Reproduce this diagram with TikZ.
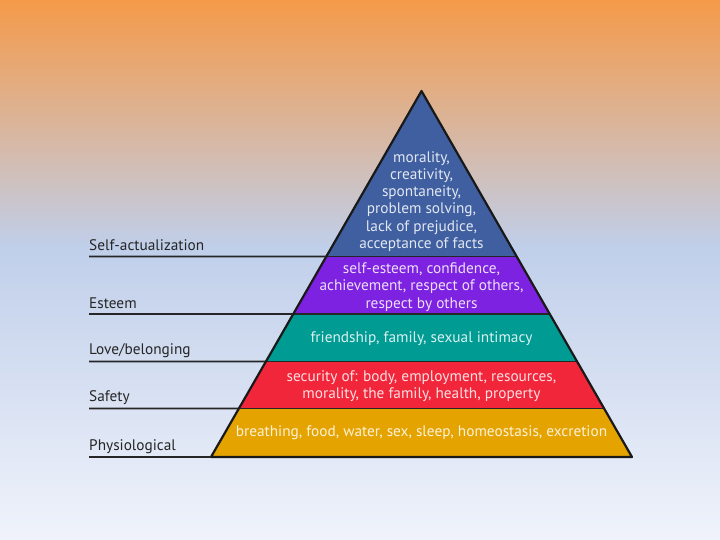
\documentclass[tikz,border=0pt]{standalone}
\usepackage{fontspec}
\setmainfont{PT Sans}
\usepackage{xcolor}
\usetikzlibrary{positioning, calc}
\definecolor{SkyOrange}{HTML}{F59A4A}
\definecolor{SkyBlue}{HTML}{C0CFEA}
\definecolor{SkyWhite}{HTML}{F0F3FB}
\definecolor{SelfBlue}{HTML}{3F5FA0}
\definecolor{EsteemPurple}{HTML}{7D22E0}
\definecolor{LoveTeal}{HTML}{009C94}
\definecolor{SafeRed}{HTML}{F2263A}
\definecolor{BodyGold}{HTML}{E5A300}

\begin{document}
\begin{tikzpicture}[
            x=1pt, y=-1pt,
            outline/.style={draw=black!90, line width=2.2pt, line join=round},
            divider/.style={draw=black!85, line width=1.4pt},
            need/.style={align=center, inner sep=0pt, font=\fontsize{15.3}{17.2}\selectfont},
            lvl/.style={anchor=base west, inner sep=0pt, text=black!85, font=\fontsize{15.3}{17}\selectfont},
            rule/.style={draw=black!85, line width=1.6pt}
        ]

            % background
            \useasboundingbox (0,0) rectangle (720,540);
            \shade[top color=SkyOrange, bottom color=SkyBlue] (0,0) rectangle (720,247);
            \shade[top color=SkyBlue, bottom color=SkyWhite] (0,247) rectangle (720,540);

            % pyramid corners and layer edges
            \coordinate (apex) at (421.5,91);
            \coordinate (bl) at (211,457);
            \coordinate (br) at (632,457);
            \coordinate (l1) at ($(apex)!0.4522!(bl)$);
            \coordinate (r1) at ($(apex)!0.4522!(br)$);
            \coordinate (l2) at ($(apex)!0.6093!(bl)$);
            \coordinate (r2) at ($(apex)!0.6093!(br)$);
            \coordinate (l3) at ($(apex)!0.7391!(bl)$);
            \coordinate (r3) at ($(apex)!0.7391!(br)$);
            \coordinate (l4) at ($(apex)!0.8675!(bl)$);
            \coordinate (r4) at ($(apex)!0.8675!(br)$);

            \fill[SelfBlue] (apex) -- (r1) -- (l1) -- cycle;
            \fill[EsteemPurple] (l1) -- (r1) -- (r2) -- (l2) -- cycle;
            \fill[LoveTeal] (l2) -- (r2) -- (r3) -- (l3) -- cycle;
            \fill[SafeRed] (l3) -- (r3) -- (r4) -- (l4) -- cycle;
            \fill[BodyGold] (l4) -- (r4) -- (br) -- (bl) -- cycle;

            \draw[divider] (l1) -- (r1);
            \draw[divider] (l2) -- (r2);
            \draw[divider] (l3) -- (r3);
            \draw[divider] (l4) -- (r4);
            \draw[outline] (apex) -- (br) -- (bl) -- cycle;

            % needs inside the layers
            \node[need, text=white!85!SelfBlue] (selfneeds) at (421.5,201.5) {morality,\\creativity,\\spontaneity,\\problem solving,\\lack of prejudice,\\acceptance of facts};
            \node[need, text=white!85!EsteemPurple] (esteemneeds) at (421.5,287) {self-esteem, confidence,\\achievement, respect of others,\\respect by others};
            \node[need, text=white!85!LoveTeal] (loveneeds) at (421.5,339) {friendship, family, sexual intimacy};
            \node[need, text=white!85!SafeRed] (safeneeds) at (421.5,386) {security of: body, employment, resources,\\morality, the family, health, property};
            \node[need, text=white!85!BodyGold] (bodyneeds) at (421.5,433) {breathing, food, water, sex, sleep, homeostasis, excretion};

            % level names on the left
            \coordinate (sa0) at (89,256.5);
            \coordinate (es0) at (89,314);
            \coordinate (lo0) at (89,361.5);
            \coordinate (sf0) at (89,408.5);
            \coordinate (ph0) at (89,457);

            \node[lvl] (selfact) at ($(sa0)+(0,-6)$) {Self-actualization};
            \node[lvl] (esteem) at ($(es0)+(0,-5.5)$) {Esteem};
            \node[lvl] (love) at ($(lo0)+(0,-7)$) {Love/belonging};
            \node[lvl] (safety) at ($(sf0)+(0,-7)$) {Safety};
            \node[lvl] (physio) at ($(ph0)+(0,-7)$) {Physiological};

            \draw[rule] (sa0) -- (l1);
            \draw[rule] (es0) -- (l2);
            \draw[rule] (lo0) -- (l3);
            \draw[rule] (sf0) -- (l4);
            \draw[rule] (ph0) -- (bl);

        \end{tikzpicture}
\end{document}
